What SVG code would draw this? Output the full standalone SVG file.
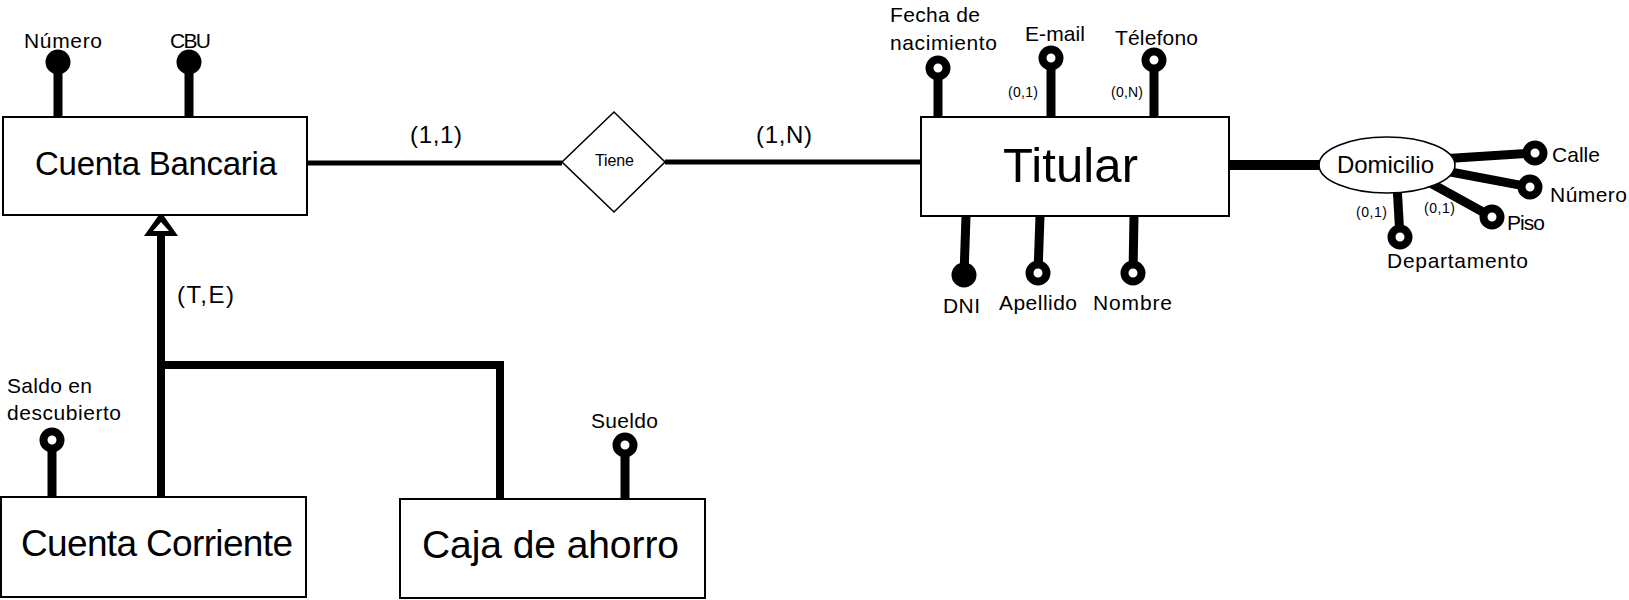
<svg xmlns="http://www.w3.org/2000/svg" width="1629" height="600" viewBox="0 0 1629 600">
<style>
text{font-family:"Liberation Sans",Arial,sans-serif;fill:#000}
.ent{fill:#fff;stroke:#000;stroke-width:2}
.rel{fill:#fff;stroke:#000;stroke-width:1.6}
.a{font-size:21px}
.s{font-size:14px}
.c{font-size:24px}
.link{stroke:#000;stroke-width:5;fill:none}
.att{stroke:#000;stroke-width:9;fill:none}
.gen{stroke:#000;stroke-width:8;fill:none}
.key{fill:#000}
.opt{fill:#fff;stroke:#000;stroke-width:8}
</style>
<rect width="1629" height="600" fill="#fff"/>
<g id="connectors">
<line class="link" x1="307" y1="163" x2="562" y2="163"/>
<line class="link" x1="665" y1="162" x2="921" y2="162"/>
<line class="att" x1="58" y1="62" x2="58" y2="117"/>
<line class="att" x1="189" y1="62" x2="189" y2="117"/>
<line class="att" x1="938" y1="68" x2="938" y2="117"/>
<line class="att" x1="1051" y1="58" x2="1051" y2="117"/>
<line class="att" x1="1154" y1="60" x2="1154" y2="117"/>
<line class="att" x1="966" y1="216" x2="964" y2="275"/>
<line class="att" x1="1040" y1="216" x2="1038" y2="273"/>
<line class="att" x1="1134" y1="216" x2="1133" y2="273"/>
<line class="att" x1="1229" y1="165" x2="1330" y2="165" style="stroke-width:10"/>
<line class="att" x1="1440" y1="159" x2="1535" y2="153"/>
<line class="att" x1="1440" y1="170" x2="1530" y2="187"/>
<line class="att" x1="1425" y1="180" x2="1492" y2="217"/>
<line class="att" x1="1397" y1="185" x2="1400" y2="237"/>
<line class="att" x1="52" y1="440" x2="52" y2="497"/>
<line class="att" x1="625" y1="445" x2="625" y2="499"/>
<path class="gen" d="M161,230 V497"/>
<path class="gen" d="M157,365 H500 V499"/>
<polygon points="161,212 144,236 178,236" fill="#000"/>
<polygon points="161,222 153,231 169,231" fill="#fff"/>
</g>
<g id="cuenta-bancaria">
<rect class="ent" x="3" y="117" width="304" height="98"/>
<text x="35" y="175" style="font-size:33px" textLength="242">Cuenta Bancaria</text>
</g>
<g id="attr-numero-cb">
<circle class="key" cx="58" cy="62" r="12.5"/>
<text class="a" x="24" y="48" textLength="78">Número</text>
</g>
<g id="attr-cbu">
<circle class="key" cx="189" cy="62" r="12.5"/>
<text class="a" x="170" y="48" textLength="41">CBU</text>
</g>
<g id="tiene">
<polygon class="rel" points="562,162 614,112 665,162 614,212"/>
<text x="595" y="166" style="font-size:16px" textLength="39">Tiene</text>
</g>
<g id="card-labels">
<text class="c" x="410" y="143" textLength="52">(1,1)</text>
<text class="c" x="756" y="143" textLength="56">(1,N)</text>
<text class="c" x="177" y="303" textLength="57">(T,E)</text>
</g>
<g id="titular">
<rect class="ent" x="921" y="117" width="308" height="99"/>
<text x="1003" y="182" style="font-size:49px" textLength="135">Titular</text>
</g>
<g id="attr-fecha">
<circle class="opt" cx="938" cy="68" r="8.5"/>
<text class="a" x="890" y="22" textLength="90">Fecha de</text>
<text class="a" x="890" y="50" textLength="107">nacimiento</text>
</g>
<g id="attr-email">
<circle class="opt" cx="1051" cy="58" r="8.5"/>
<text class="a" x="1025" y="41" textLength="60">E-mail</text>
<text class="s" x="1008" y="97" textLength="30">(0,1)</text>
</g>
<g id="attr-telefono">
<circle class="opt" cx="1154" cy="60" r="8.5"/>
<text class="a" x="1115" y="45" textLength="83">Télefono</text>
<text class="s" x="1111" y="97" textLength="32">(0,N)</text>
</g>
<g id="attr-dni">
<circle class="key" cx="964" cy="275" r="12.5"/>
<text class="a" x="943" y="313" textLength="37">DNI</text>
</g>
<g id="attr-apellido">
<circle class="opt" cx="1038" cy="273" r="8.5"/>
<text class="a" x="999" y="310" textLength="78">Apellido</text>
</g>
<g id="attr-nombre">
<circle class="opt" cx="1133" cy="273" r="8.5"/>
<text class="a" x="1093" y="310" textLength="79">Nombre</text>
</g>
<g id="domicilio">
<ellipse cx="1387" cy="165" rx="68" ry="28" fill="#fff" stroke="#000" stroke-width="1.6"/>
<text x="1337" y="173" style="font-size:24px" textLength="97">Domicilio</text>
</g>
<g id="attr-calle">
<circle class="opt" cx="1535" cy="153" r="8.5"/>
<text class="a" x="1552" y="162" textLength="48">Calle</text>
</g>
<g id="attr-numero-dom">
<circle class="opt" cx="1530" cy="187" r="8.5"/>
<text class="a" x="1550" y="202" textLength="77">Número</text>
</g>
<g id="attr-piso">
<circle class="opt" cx="1492" cy="217" r="8.5"/>
<text class="a" x="1507" y="230" textLength="38">Piso</text>
<text class="s" x="1424" y="213" textLength="31">(0,1)</text>
</g>
<g id="attr-departamento">
<circle class="opt" cx="1400" cy="237" r="8.5"/>
<text class="a" x="1387" y="268" textLength="141">Departamento</text>
<text class="s" x="1356" y="217" textLength="31">(0,1)</text>
</g>
<g id="cuenta-corriente">
<rect class="ent" x="1" y="497" width="305" height="100"/>
<text x="21" y="556" style="font-size:37px" textLength="272">Cuenta Corriente</text>
</g>
<g id="attr-saldo">
<circle class="opt" cx="52" cy="440" r="8.5"/>
<text class="a" x="7" y="393" textLength="85">Saldo en</text>
<text class="a" x="7" y="420" textLength="114">descubierto</text>
</g>
<g id="caja-ahorro">
<rect class="ent" x="400" y="499" width="305" height="99"/>
<text x="422" y="558" style="font-size:39px" textLength="257">Caja de ahorro</text>
</g>
<g id="attr-sueldo">
<circle class="opt" cx="625" cy="445" r="8.5"/>
<text class="a" x="591" y="428" textLength="67">Sueldo</text>
</g>
</svg>
